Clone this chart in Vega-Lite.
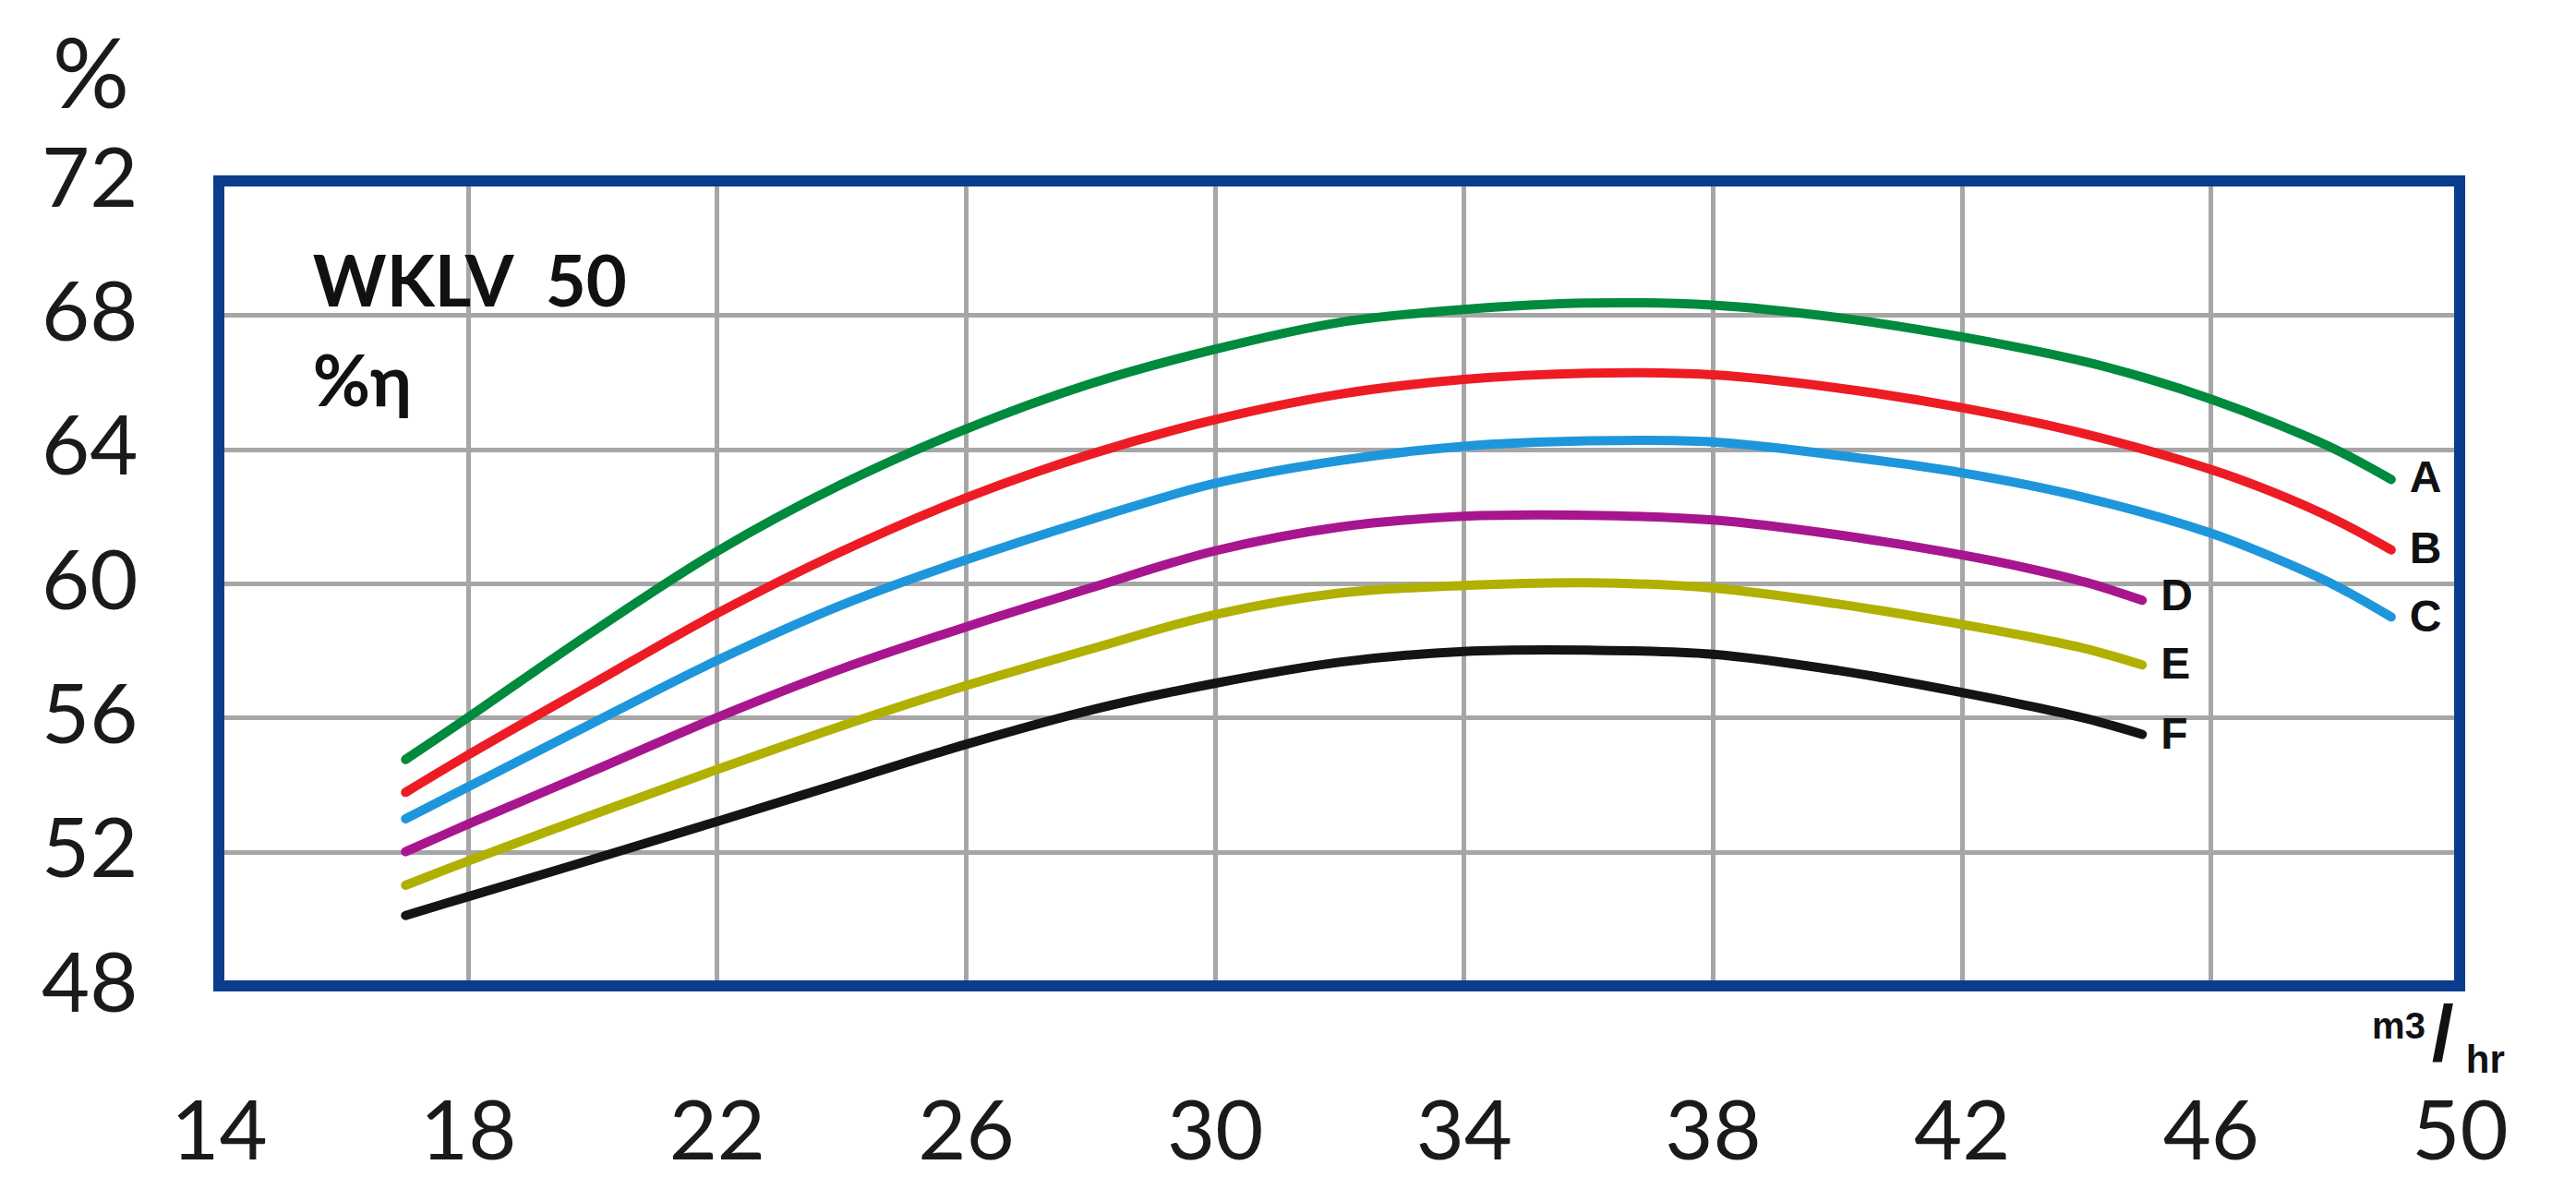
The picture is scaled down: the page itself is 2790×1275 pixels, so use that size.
{
  "$schema": "https://vega.github.io/schema/vega-lite/v6.json",
  "width": 2427,
  "height": 872,
  "autosize": {"type": "none"},
  "padding": {"left": 237, "top": 196, "right": 126, "bottom": 207},
  "background": "#ffffff",
  "config": {"view": {"stroke": null}},
  "datasets": {
    "curves": [
      {"curve": "A", "flow": 17, "eff": 54.75}, {"curve": "A", "flow": 18, "eff": 56.0}, {"curve": "A", "flow": 20, "eff": 58.55}, {"curve": "A", "flow": 22, "eff": 60.95}, {"curve": "A", "flow": 24, "eff": 62.95}, {"curve": "A", "flow": 26, "eff": 64.6}, {"curve": "A", "flow": 28, "eff": 65.95}, {"curve": "A", "flow": 30, "eff": 66.98}, {"curve": "A", "flow": 32, "eff": 67.78}, {"curve": "A", "flow": 34, "eff": 68.17}, {"curve": "A", "flow": 36, "eff": 68.36}, {"curve": "A", "flow": 38, "eff": 68.3}, {"curve": "A", "flow": 40, "eff": 67.93}, {"curve": "A", "flow": 42, "eff": 67.35}, {"curve": "A", "flow": 44, "eff": 66.6}, {"curve": "A", "flow": 45, "eff": 66.1}, {"curve": "A", "flow": 46, "eff": 65.5}, {"curve": "A", "flow": 47, "eff": 64.8}, {"curve": "A", "flow": 48, "eff": 64.0}, {"curve": "A", "flow": 48.9, "eff": 63.1},
      {"curve": "B", "flow": 17, "eff": 53.77}, {"curve": "B", "flow": 18, "eff": 54.88}, {"curve": "B", "flow": 20, "eff": 57.0}, {"curve": "B", "flow": 22, "eff": 59.1}, {"curve": "B", "flow": 24, "eff": 60.95}, {"curve": "B", "flow": 26, "eff": 62.55}, {"curve": "B", "flow": 28, "eff": 63.85}, {"curve": "B", "flow": 30, "eff": 64.88}, {"curve": "B", "flow": 32, "eff": 65.64}, {"curve": "B", "flow": 34, "eff": 66.08}, {"curve": "B", "flow": 36, "eff": 66.27}, {"curve": "B", "flow": 38, "eff": 66.22}, {"curve": "B", "flow": 40, "eff": 65.83}, {"curve": "B", "flow": 42, "eff": 65.24}, {"curve": "B", "flow": 44, "eff": 64.45}, {"curve": "B", "flow": 46, "eff": 63.4}, {"curve": "B", "flow": 47, "eff": 62.72}, {"curve": "B", "flow": 48, "eff": 61.9}, {"curve": "B", "flow": 48.9, "eff": 61.0},
      {"curve": "C", "flow": 17, "eff": 52.98}, {"curve": "C", "flow": 18, "eff": 53.93}, {"curve": "C", "flow": 20, "eff": 55.83}, {"curve": "C", "flow": 22, "eff": 57.7}, {"curve": "C", "flow": 24, "eff": 59.35}, {"curve": "C", "flow": 26, "eff": 60.7}, {"curve": "C", "flow": 28, "eff": 61.9}, {"curve": "C", "flow": 30, "eff": 62.98}, {"curve": "C", "flow": 32, "eff": 63.66}, {"curve": "C", "flow": 34, "eff": 64.09}, {"curve": "C", "flow": 36, "eff": 64.25}, {"curve": "C", "flow": 38, "eff": 64.22}, {"curve": "C", "flow": 40, "eff": 63.82}, {"curve": "C", "flow": 42, "eff": 63.3}, {"curve": "C", "flow": 44, "eff": 62.55}, {"curve": "C", "flow": 46, "eff": 61.5}, {"curve": "C", "flow": 47, "eff": 60.78}, {"curve": "C", "flow": 48, "eff": 59.94}, {"curve": "C", "flow": 48.9, "eff": 59.0},
      {"curve": "D", "flow": 17, "eff": 52.0}, {"curve": "D", "flow": 18, "eff": 52.82}, {"curve": "D", "flow": 20, "eff": 54.4}, {"curve": "D", "flow": 22, "eff": 56.0}, {"curve": "D", "flow": 24, "eff": 57.45}, {"curve": "D", "flow": 26, "eff": 58.7}, {"curve": "D", "flow": 28, "eff": 59.86}, {"curve": "D", "flow": 30, "eff": 60.97}, {"curve": "D", "flow": 32, "eff": 61.68}, {"curve": "D", "flow": 34, "eff": 62.0}, {"curve": "D", "flow": 36, "eff": 62.03}, {"curve": "D", "flow": 38, "eff": 61.89}, {"curve": "D", "flow": 40, "eff": 61.45}, {"curve": "D", "flow": 42, "eff": 60.85}, {"curve": "D", "flow": 43, "eff": 60.48}, {"curve": "D", "flow": 44, "eff": 60.03}, {"curve": "D", "flow": 44.9, "eff": 59.5},
      {"curve": "E", "flow": 17, "eff": 51.0}, {"curve": "E", "flow": 18, "eff": 51.72}, {"curve": "E", "flow": 20, "eff": 53.1}, {"curve": "E", "flow": 22, "eff": 54.45}, {"curve": "E", "flow": 24, "eff": 55.75}, {"curve": "E", "flow": 26, "eff": 56.95}, {"curve": "E", "flow": 28, "eff": 58.04}, {"curve": "E", "flow": 30, "eff": 59.07}, {"curve": "E", "flow": 32, "eff": 59.71}, {"curve": "E", "flow": 34, "eff": 59.94}, {"curve": "E", "flow": 36, "eff": 60.02}, {"curve": "E", "flow": 38, "eff": 59.86}, {"curve": "E", "flow": 40, "eff": 59.39}, {"curve": "E", "flow": 42, "eff": 58.78}, {"curve": "E", "flow": 43, "eff": 58.44}, {"curve": "E", "flow": 44, "eff": 58.05}, {"curve": "E", "flow": 44.9, "eff": 57.57},
      {"curve": "F", "flow": 17, "eff": 50.1}, {"curve": "F", "flow": 18, "eff": 50.66}, {"curve": "F", "flow": 20, "eff": 51.77}, {"curve": "F", "flow": 22, "eff": 52.9}, {"curve": "F", "flow": 24, "eff": 54.05}, {"curve": "F", "flow": 26, "eff": 55.2}, {"curve": "F", "flow": 28, "eff": 56.22}, {"curve": "F", "flow": 30, "eff": 57.02}, {"curve": "F", "flow": 32, "eff": 57.65}, {"curve": "F", "flow": 34, "eff": 57.97}, {"curve": "F", "flow": 36, "eff": 58.01}, {"curve": "F", "flow": 38, "eff": 57.89}, {"curve": "F", "flow": 40, "eff": 57.41}, {"curve": "F", "flow": 42, "eff": 56.75}, {"curve": "F", "flow": 43, "eff": 56.38}, {"curve": "F", "flow": 44, "eff": 55.97}, {"curve": "F", "flow": 44.9, "eff": 55.5}
    ],
    "labels": [
      {"curve": "A", "flow": 48.9, "eff": 63.1},
      {"curve": "B", "flow": 48.9, "eff": 61.0},
      {"curve": "C", "flow": 48.9, "eff": 58.95},
      {"curve": "D", "flow": 44.9, "eff": 59.6},
      {"curve": "E", "flow": 44.9, "eff": 57.55},
      {"curve": "F", "flow": 44.9, "eff": 55.45}
    ]
  },
  "layer": [
    {
      "data": {"name": "curves"},
      "mark": {"type": "line", "strokeWidth": 10, "strokeCap": "round", "strokeJoin": "round", "interpolate": "catmull-rom"},
      "encoding": {
        "x": {
          "field": "flow", "type": "quantitative",
          "scale": {"domain": [14, 50], "nice": false, "zero": false},
          "axis": {
            "values": [14, 18, 22, 26, 30, 34, 38, 42, 46, 50], "format": "d",
            "grid": true, "gridColor": "#a6a6a6", "gridWidth": 5,
            "ticks": false, "tickSize": 0, "domain": false,
            "labelFont": "Lato", "labelFontSize": 90, "labelColor": "#1a1a1a",
            "labelPadding": 116, "labelFlush": false, "labelOverlap": false, "labelBound": false,
            "title": null
          }
        },
        "y": {
          "field": "eff", "type": "quantitative",
          "scale": {"domain": [48, 72], "nice": false, "zero": false},
          "axis": {
            "values": [48, 52, 56, 60, 64, 68, 72], "format": "d",
            "grid": true, "gridColor": "#a6a6a6", "gridWidth": 5,
            "ticks": false, "tickSize": 0, "domain": false,
            "labelFont": "Lato", "labelFontSize": 90, "labelColor": "#1a1a1a",
            "labelPadding": 88, "labelOverlap": false, "labelBound": false,
            "title": "%", "titleAngle": 0, "titleX": -139, "titleY": -111,
            "titleAlign": "center", "titleBaseline": "middle",
            "titleFont": "Lato", "titleFontSize": 104, "titleFontWeight": "normal", "titleColor": "#1a1a1a"
          }
        },
        "color": {
          "field": "curve", "type": "nominal",
          "scale": {"domain": ["A", "B", "C", "D", "E", "F"], "range": ["#008a3e", "#ed1c24", "#1e96dc", "#a8168f", "#b0b000", "#141414"]},
          "legend": null
        }
      }
    },
    {
      "data": {"name": "labels"},
      "mark": {"type": "text", "align": "left", "baseline": "middle", "dx": 20, "font": "Liberation Sans", "fontWeight": "bold", "fontSize": 48, "color": "#111111"},
      "encoding": {
        "x": {"field": "flow", "type": "quantitative"},
        "y": {"field": "eff", "type": "quantitative"},
        "text": {"field": "curve"}
      }
    },
    {
      "data": {"values": [{}]},
      "mark": {"type": "text", "align": "left", "baseline": "alphabetic", "font": "Lato", "fontWeight": "bold", "fontSize": 76, "color": "#111111"},
      "encoding": {"x": {"datum": 15.51}, "y": {"datum": 68.26}, "text": {"value": "WKLV\u00a0\u00a050"}}
    },
    {
      "data": {"values": [{}]},
      "mark": {"type": "text", "align": "left", "baseline": "alphabetic", "font": "Lato", "fontWeight": "bold", "fontSize": 76, "color": "#111111"},
      "encoding": {"x": {"datum": 15.51}, "y": {"datum": 65.28}, "text": {"value": "%η"}}
    },
    {
      "data": {"values": [{}]},
      "mark": {"type": "text", "align": "right", "baseline": "alphabetic", "font": "Liberation Sans", "fontWeight": "bold", "fontSize": 40, "color": "#111111"},
      "encoding": {"x": {"datum": 49.45}, "y": {"datum": 46.43}, "text": {"value": "m3"}}
    },
    {
      "data": {"values": [{}]},
      "mark": {"type": "text", "align": "center", "baseline": "middle", "font": "Liberation Sans", "fontWeight": "bold", "fontSize": 86, "color": "#111111"},
      "encoding": {"x": {"datum": 49.73}, "y": {"datum": 46.5}, "text": {"value": "/"}}
    },
    {
      "data": {"values": [{}]},
      "mark": {"type": "text", "align": "left", "baseline": "alphabetic", "font": "Liberation Sans", "fontWeight": "bold", "fontSize": 42, "color": "#111111"},
      "encoding": {"x": {"datum": 50.1}, "y": {"datum": 45.4}, "text": {"value": "hr"}}
    },
    {
      "data": {"values": [{}]},
      "mark": {"type": "rect", "filled": false, "stroke": "#0b3d8c", "strokeWidth": 12},
      "encoding": {"x": {"datum": 14}, "x2": {"datum": 50}, "y": {"datum": 48}, "y2": {"datum": 72}}
    }
  ]
}
